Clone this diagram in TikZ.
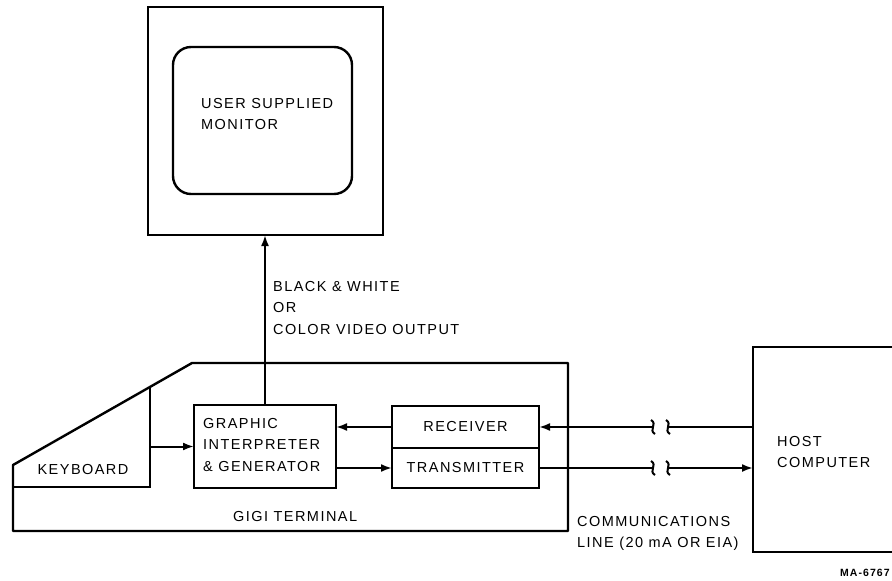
\documentclass[tikz,border=0pt]{standalone}
\usepackage{fontspec}
\setmainfont{Liberation Sans}[LetterSpace=10]
\usetikzlibrary{arrows.meta,calc}
\begin{document}
\begin{tikzpicture}[
    x=1pt, y=-1pt,
    every node/.style={font=\fontsize{14.5}{21.5}\selectfont},
    box/.style={draw, line width=2.4pt, inner sep=0pt, outer sep=0pt},
    txt/.style={align=left, anchor=west, inner sep=0pt},
    sig/.style={line width=2pt, -{Latex[length=11pt,width=8pt]}},
    wire/.style={line width=2pt}
]
    \useasboundingbox (0,0) rectangle (892,581);

    % Monitor
    \node[box, minimum width=235pt, minimum height=228pt] (monitor) at (265.5,121) {};
    \node[box, rounded corners=18pt, minimum width=179pt, minimum height=147pt] (screen) at (262.5,120.5) {};
    \node[txt] (monlabel) at (201,114) {USER SUPPLIED\\MONITOR};

    % GIGI terminal outline and keyboard
    \draw[line width=2.4pt, line join=round] (13,465) -- (192,363) -- (568,363) -- (568,531) -- (13,531) -- cycle;
    \draw[line width=2.4pt] (150,387) -- (150,487) -- (13,487);
    \coordinate (kb) at (150,446.5);
    \node (keyboard) at (83,470) {KEYBOARD};
    \node[txt] (gigi) at (233,517) {GIGI TERMINAL};

    % Terminal blocks
    \node[box, minimum width=142pt, minimum height=83pt] (graphic) at (265,446.5) {};
    \node[txt] (graphlabel) at (203,445) {GRAPHIC\\INTERPRETER\\\& GENERATOR};
    \node[box, minimum width=147pt, minimum height=42pt] (receiver) at (465.5,427) {RECEIVER};
    \node[box, minimum width=147pt, minimum height=40pt] (transmitter) at (465.5,468) {TRANSMITTER};

    % Host
    \node[box, minimum width=160pt, minimum height=205pt, anchor=north west] (host) at (753,347) {};
    \node[txt] (hostlabel) at (777,452) {HOST\\COMPUTER};

    % Connections inside the terminal
    \draw[sig] (kb) -- (graphic.west);
    \draw[sig] (receiver.west) -- (receiver.west -| graphic.east);
    \draw[sig] (graphic.east |- transmitter.west) -- (transmitter.west);
    \draw[sig] (graphic.north) -- (graphic.north |- monitor.south);
    \node[txt] (video) at (273,308) {BLACK \& WHITE\\OR\\COLOR VIDEO OUTPUT};

    % Communications line
    \coordinate (rxA) at (653,427);
    \coordinate (rxB) at (668,427);
    \coordinate (txA) at (653,468);
    \coordinate (txB) at (668,468);
    \draw[wire] (receiver.east -| host.west) -- (rxB);
    \draw[sig] (rxA) -- (receiver.east);
    \draw[wire] (transmitter.east) -- (txA);
    \draw[sig] (txB) -- (transmitter.east -| host.west);
    \foreach \p in {rxA,rxB,txA,txB}
        \draw[wire] ($(\p)+(-2,-7)$) .. controls ($(\p)+(5,-3)$) and ($(\p)+(-5,3)$) .. ($(\p)+(2,7)$);
    \node[txt] (comm) at (577,533.5) {COMMUNICATIONS\\LINE (20 mA OR EIA)};

    \node[txt, font=\fontsize{10.5}{12}\selectfont\bfseries] (ma) at (840,573) {MA-6767};
\end{tikzpicture}
\end{document}
